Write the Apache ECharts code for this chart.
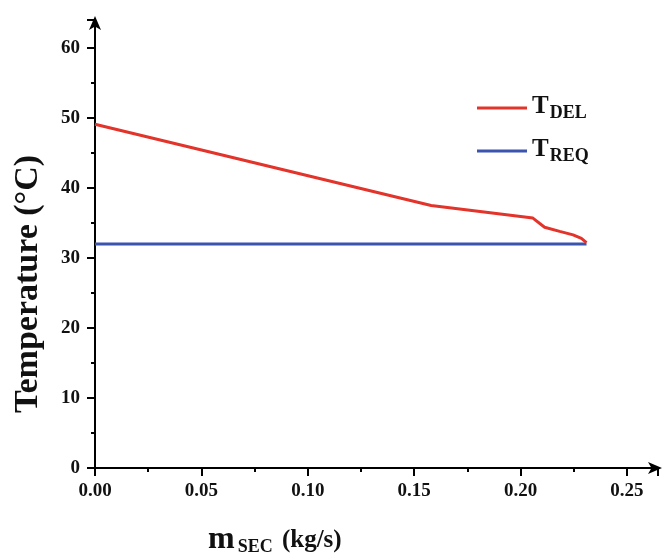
<!DOCTYPE html>
<html>
<head>
<meta charset="utf-8">
<script src="https://cdn.jsdelivr.net/npm/echarts@6/dist/echarts.min.js"></script>
<style>
  html, body { margin: 0; padding: 0; background: #fff; }
  #chart { width: 663px; height: 559px; }
</style>
</head>
<body>
<div id="chart"></div>
<script>
// mass flow (kg/s) and delivered temperature (°C)
var massFlow = [0, 0.158, 0.2058, 0.2113, 0.2184, 0.2247, 0.2286, 0.231];
var tDel = [49.1, 37.5, 35.7, 34.4, 33.8, 33.3, 32.8, 32.2];
// required temperature
var reqFlow = [0, 0.231];
var tReq = [32, 32];

var subNames = { TDEL: 'DEL', TREQ: 'REQ' };

function pairs(xs, ys) {
    return xs.map(function (x, i) { return [x, ys[i]]; });
}

var font = 'Liberation Serif';
var myChart = echarts.init(document.getElementById('chart'));
var option = {
    animation: false,
    grid: { left: 95, right: 5, top: 20, bottom: 91 },
    legend: {
        orient: 'vertical',
        left: 472,
        top: 89,
        itemWidth: 50,
        itemHeight: 3,
        itemGap: 15,
        icon: 'rect',
        data: ['TDEL', 'TREQ'],
        formatter: function (name) {
            return '{t|T}{s|' + subNames[name] + '}';
        },
        textStyle: {
            fontFamily: font,
            fontWeight: 'bold',
            color: '#111',
            rich: {
                t: { fontSize: 25, fontFamily: font, fontWeight: 'bold', lineHeight: 28, verticalAlign: 'top' },
                s: { fontSize: 18, fontFamily: font, fontWeight: 'bold', lineHeight: 28, verticalAlign: 'bottom', padding: [9, 0, 0, 1] }
            }
        }
    },
    xAxis: {
        type: 'value',
        min: 0,
        max: 0.2646,
        interval: 0.05,
        splitLine: { show: false },
        axisLine: {
            lineStyle: { color: '#000', width: 2 },
            symbol: ['none', 'arrow'],
            symbolSize: [9, 14],
            symbolOffset: [0, 4]
        },
        axisTick: { length: 8, lineStyle: { width: 2, color: '#000' } },
        minorTick: { show: true, splitNumber: 2, length: 4, lineStyle: { width: 2, color: '#000' } },
        axisLabel: {
            showMaxLabel: false,
            margin: 14,
            color: '#111',
            fontFamily: font,
            fontWeight: 'bold',
            fontSize: 19,
            formatter: function (v) { return v.toFixed(2); }
        }
    },
    yAxis: {
        type: 'value',
        min: 0,
        max: 64,
        interval: 10,
        splitLine: { show: false },
        axisLine: {
            lineStyle: { color: '#000', width: 2 },
            symbol: ['none', 'arrow'],
            symbolSize: [9, 14],
            symbolOffset: [0, 4]
        },
        axisTick: { length: 8, lineStyle: { width: 2, color: '#000' } },
        minorTick: { show: true, splitNumber: 2, length: 4, lineStyle: { width: 2, color: '#000' } },
        axisLabel: {
            showMaxLabel: false,
            margin: 15,
            color: '#111',
            fontFamily: font,
            fontWeight: 'bold',
            fontSize: 19
        }
    },
    series: [
        {
            name: 'TDEL',
            type: 'line',
            data: pairs(massFlow, tDel),
            showSymbol: false,
            symbol: 'none',
            color: '#e3342b',
            lineStyle: { color: '#e3342b', width: 3 },
            z: 3
        },
        {
            name: 'TREQ',
            type: 'line',
            data: pairs(reqFlow, tReq),
            showSymbol: false,
            symbol: 'none',
            color: '#3b55ae',
            lineStyle: { color: '#3b55ae', width: 3 },
            z: 2
        }
    ],
    graphic: [
        {
            type: 'text',
            x: 28,
            y: 284,
            rotation: Math.PI / 2,
            style: {
                text: 'Temperature (°C)',
                align: 'center',
                verticalAlign: 'middle',
                fontFamily: font,
                fontWeight: 'bold',
                fontSize: 34,
                fill: '#111'
            }
        },
        {
            type: 'text',
            x: 208,
            y: 524,
            style: {
                text: '{m|m}{s|SEC}{u| (kg/s)}',
                rich: {
                    m: { fontFamily: font, fontWeight: 'bold', fontSize: 32, fill: '#111', lineHeight: 32, verticalAlign: 'top' },
                    s: { fontFamily: font, fontWeight: 'bold', fontSize: 18, fill: '#111', lineHeight: 32, verticalAlign: 'bottom', padding: [14, 3, 0, 3] },
                    u: { fontFamily: font, fontWeight: 'bold', fontSize: 25, fill: '#111', lineHeight: 32, verticalAlign: 'top', padding: [4, 0, 0, 0] }
                }
            }
        }
    ]
};
myChart.setOption(option);
</script>
</body>
</html>
